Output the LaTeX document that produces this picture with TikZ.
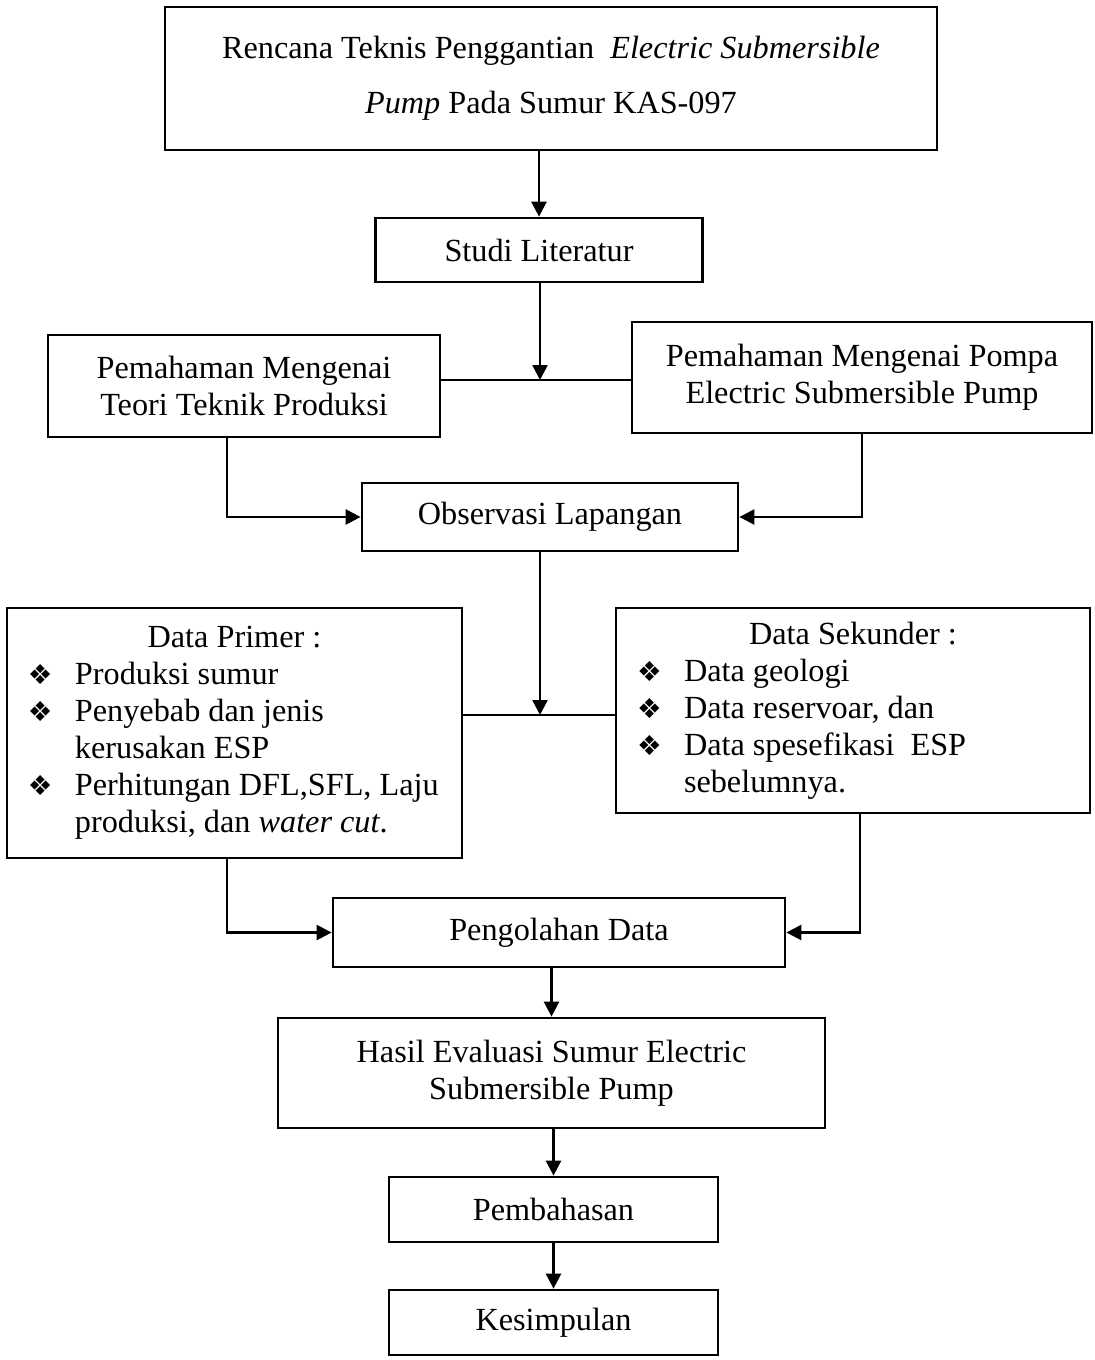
\documentclass[tikz,border=0pt]{standalone}
\usepackage{fontspec}
\setmainfont{Liberation Serif}
\newfontfamily\symfont{DejaVu Sans}
\usetikzlibrary{arrows.meta}

\newcommand{\bul}{{\symfont\fontsize{11}{11}\selectfont\char"2756}}
\newcommand{\itm}[1]{\par\hangindent=27.2pt\hangafter=1\noindent\hspace*{8.4pt}\makebox[18.8pt][l]{\bul}#1}

\tikzset{
  box/.style={draw, line width=1.1pt, inner sep=0pt, align=center, font=\fontsize{12.9}{14.8}\selectfont},
  listbox/.style={draw, line width=1.1pt, inner sep=0pt, font=\fontsize{12.9}{14.8}\selectfont},
  wh/.style 2 args={minimum width=#1*0.4pt, minimum height=#2*0.4pt},
  flow/.style={line width=1pt, -{Triangle[length=6pt,width=6pt]}},
  link/.style={line width=1pt}
}

\begin{document}
\begin{tikzpicture}[x=0.4pt,y=-0.4pt]
    \useasboundingbox (0,0) rectangle (1094,1360);

    % title
    \node[box, wh={772}{143}] (judul) at (551,78.5) {Rencana Teknis Penggantian~ \textit{Electric Submersible}\\[7.2pt]\textit{Pump} Pada Sumur KAS-097};

    \node[box, wh={327}{64}] (studi) at (539,250) {Studi Literatur};
    \draw[flow] (judul.south -| studi.north) -- (studi.north);

    % theory boxes
    \node[box, wh={392}{102}] (teori) at (244,386) {Pemahaman Mengenai\\Teori Teknik Produksi};
    \node[box, wh={460}{111}] (pompa) at (862,377.5) {Pemahaman Mengenai Pompa\\Electric Submersible Pump};

    % line from studi literatur to the two theory boxes
    \coordinate (j1) at (540,380);
    \draw[flow] (j1 |- studi.south) -- (j1);
    \draw[link] (teori.east |- j1) -- (pompa.west |- j1);

    \node[box, wh={376}{68}] (obs) at (550,517) {Observasi Lapangan};
    \draw[flow] ([xshift=-6.8pt]teori.south) |- (obs.west);
    \draw[flow] (pompa.south) |- (obs.east);

    % data boxes
    \node[listbox, wh={455}{250}] (primer) at (234.5,733) {\parbox{182pt}{\centering Data Primer :\par\raggedright
        \itm{Produksi sumur}
        \itm{Penyebab dan jenis\newline kerusakan ESP}
        \itm{Perhitungan DFL,SFL, Laju\newline produksi, dan \textit{water cut}.}}};
    \node[listbox, wh={474}{205}] (sekunder) at (853,710.5) {\parbox{189.6pt}{\centering Data Sekunder :\par\raggedright
        \itm{Data geologi}
        \itm{Data reservoar, dan}
        \itm{Data spesefikasi~ ESP\newline sebelumnya.}}};

    % line from observasi to the data boxes
    \coordinate (j2) at (540,715);
    \draw[flow] (j2 |- obs.south) -- (j2);
    \draw[link] (primer.east |- j2) -- (sekunder.west |- j2);

    \node[box, wh={452}{69}] (olah) at (559,932.5) {Pengolahan Data};
    \draw[flow] ([xshift=-3pt]primer.south) |- (olah.west);
    \draw[flow] ([xshift=2.8pt]sekunder.south) |- (olah.east);

    \node[box, wh={547}{110}] (hasil) at (551.5,1073) {Hasil Evaluasi Sumur Electric\\Submersible Pump};
    \draw[flow] (olah.south -| hasil.north) -- (hasil.north);

    \node[box, wh={329}{65}] (bahas) at (553.5,1209.5) {Pembahasan};
    \draw[flow] (hasil.south -| bahas.north) -- (bahas.north);

    \node[box, wh={329}{65}] (simpul) at (553.5,1322.5) {Kesimpulan};
    \draw[flow] (bahas.south) -- (simpul.north);
\end{tikzpicture}
\end{document}
